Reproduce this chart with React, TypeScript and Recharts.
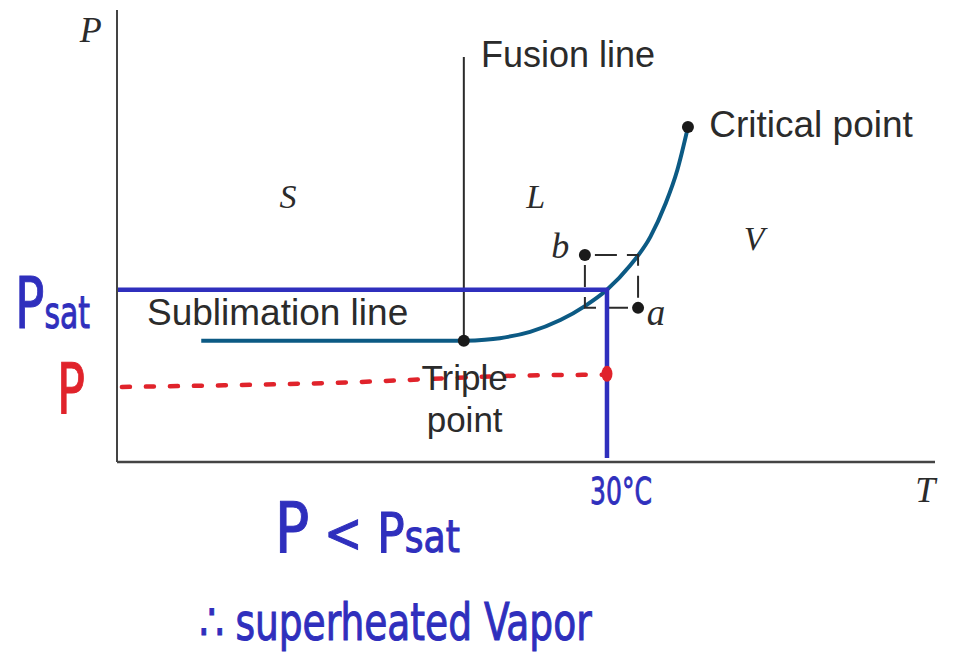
import { ComposedChart, Line, Scatter, XAxis, YAxis, ReferenceDot } from 'recharts';

// phase diagram, T on x and P on y, both in arbitrary units 0..100
const sublimation = [
  { T: 10.3, P: 26.8 },
  { T: 42.4, P: 26.8 },
];
const vaporization = [
  { T: 42.4, P: 26.8 },
  { T: 46.8, P: 27.4 },
  { T: 50.5, P: 28.8 },
  { T: 54.2, P: 31.4 },
  { T: 57.2, P: 34.5 },
  { T: 59.9, P: 38.1 },
  { T: 62.7, P: 43.4 },
  { T: 65.2, P: 49.8 },
  { T: 67.0, P: 56.9 },
  { T: 68.5, P: 64.6 },
  { T: 69.8, P: 74.1 },
];
const fusion = [
  { T: 42.4, P: 26.8 },
  { T: 42.4, P: 89.6 },
];
const psatPath = [
  { T: -0.6, P: 38.1 },
  { T: 59.9, P: 38.1 },
  { T: 59.9, P: 0.9 },
];
const pPath = [
  { T: 0.6, P: 16.6 },
  { T: 26.4, P: 17.5 },
  { T: 51.7, P: 19.2 },
  { T: 59.9, P: 19.3 },
];
const bToA1 = [
  { T: 57.2, P: 45.8 },
  { T: 63.7, P: 45.8 },
  { T: 63.7, P: 34.1 },
];
const bToA2 = [
  { T: 57.2, P: 45.8 },
  { T: 57.2, P: 34.1 },
  { T: 63.7, P: 34.1 },
];
const blackDots = [
  { T: 42.4, P: 26.8 },
  { T: 69.8, P: 74.1 },
  { T: 57.2, P: 45.8 },
  { T: 63.7, P: 34.1 },
];
const redDot = [{ T: 59.9, P: 19.5 }];

const xTicks = [59.9];
const xTickLabels = ['30°C'];
const yTicks = [38.1, 16.8];
const yTickLabels = ['Psat', 'P'];

const INK = '#2b2b2b';
const BLUE = '#2f2fbd';
const RED = '#e0232b';
const CURVE = '#0c5a84';
const SANS = "'Liberation Sans', Arial, sans-serif";
const SERIF = "'Liberation Serif', 'Times New Roman', serif";
const HAND = "'DejaVu Sans Condensed', 'DejaVu Sans', sans-serif";

function note(T: number, P: number, content: (cx: number, cy: number) => any, key: string) {
  return (
    <ReferenceDot
      key={key}
      x={T}
      y={P}
      r={0}
      ifOverflow="visible"
      shape={(p: any) => content(p.cx, p.cy)}
    />
  );
}

const XTick = (props: any) => {
  const { x, y, payload } = props;
  const i = xTicks.indexOf(payload.value);
  return (
    <text x={x - 17} y={y + 42} fill={BLUE} stroke={BLUE} strokeWidth={0.8} fontFamily={HAND} fontSize={38} textLength={62} lengthAdjust="spacingAndGlyphs">
      {xTickLabels[i]}
    </text>
  );
};

const YTick = (props: any) => {
  const { x, y, payload } = props;
  const i = yTicks.indexOf(payload.value);
  if (i === 0) {
    return (
      <text x={x - 102} y={y + 38} fill={BLUE} stroke={BLUE} strokeWidth={1} fontFamily={HAND} fontSize={72} textLength={75} lengthAdjust="spacingAndGlyphs">
        <tspan fontSize={72}>P</tspan>
        <tspan fontSize={44}>sat</tspan>
      </text>
    );
  }
  return (
    <text x={x - 60} y={y + 27} fill={RED} stroke={RED} strokeWidth={1} fontFamily={HAND} fontSize={70} textLength={28} lengthAdjust="spacingAndGlyphs">
      {yTickLabels[i]}
    </text>
  );
};

const dot = (p: any) => <circle cx={p.cx} cy={p.cy} r={6} fill="#1a1a1a" />;
const redBlob = (p: any) => <ellipse cx={p.cx} cy={p.cy} rx={5.5} ry={8} fill={RED} />;

export default function App() {
  return (
    <div style={{ position: 'absolute', left: 0, top: 0, background: '#fff' }}>
      <ComposedChart width={966} height={667} margin={{ top: 10, right: 31, bottom: 175, left: 7 }}>
        <XAxis
          type="number"
          dataKey="T"
          domain={[0, 100]}
          allowDataOverflow
          ticks={xTicks}
          tick={<XTick />}
          tickLine={false}
          tickSize={0}
          tickMargin={0}
          height={30}
          axisLine={{ stroke: '#444', strokeWidth: 2.5 }}
        />
        <YAxis
          type="number"
          dataKey="P"
          domain={[0, 100]}
          allowDataOverflow
          ticks={yTicks}
          tick={<YTick />}
          tickLine={false}
          tickSize={0}
          tickMargin={0}
          width={110}
          axisLine={{ stroke: '#444', strokeWidth: 2 }}
        />

        <Line data={fusion} dataKey="P" type="linear" stroke={INK} strokeWidth={2} dot={false} isAnimationActive={false} />
        <Line data={sublimation} dataKey="P" type="linear" stroke={CURVE} strokeWidth={4} dot={false} isAnimationActive={false} />
        <Line data={vaporization} dataKey="P" type="monotone" stroke={CURVE} strokeWidth={4} dot={false} isAnimationActive={false} />
        <Line data={bToA1} dataKey="P" type="linear" stroke={INK} strokeWidth={2} strokeDasharray="22 10" strokeDashoffset={22} dot={false} isAnimationActive={false} />
        <Line data={bToA2} dataKey="P" type="linear" stroke={INK} strokeWidth={2} strokeDasharray="22 10" strokeDashoffset={22} dot={false} isAnimationActive={false} />
        <Line data={psatPath} dataKey="P" type="linear" stroke={BLUE} strokeWidth={4.5} dot={false} isAnimationActive={false} />
        <Line data={pPath} dataKey="P" type="monotone" stroke={RED} strokeWidth={4.5} strokeLinecap="round" strokeDasharray="8 16" dot={false} isAnimationActive={false} />
        <Scatter data={blackDots} dataKey="P" shape={dot} isAnimationActive={false} />
        <Scatter data={redDot} dataKey="P" shape={redBlob} isAnimationActive={false} />

        {note(44.5, 87.4, (x, y) => <text x={x} y={y} fill={INK} fontFamily={SANS} fontSize={36}>Fusion line</text>, 'fusion')}
        {note(72.4, 71.9, (x, y) => <text x={x} y={y} fill={INK} fontFamily={SANS} fontSize={37}>Critical point</text>, 'crit')}
        {note(3.67, 30.3, (x, y) => <text x={x} y={y} fill={INK} fontFamily={SANS} fontSize={37}>Sublimation line</text>, 'sub')}
        {note(42.5, 15.9, (x, y) => <text x={x} y={y} fill={INK} fontFamily={SANS} fontSize={35} textAnchor="middle">Triple</text>, 'triple')}
        {note(42.5, 6.6, (x, y) => <text x={x} y={y} fill={INK} fontFamily={SANS} fontSize={35} textAnchor="middle">point</text>, 'point')}

        {note(20.9, 56.2, (x, y) => <text x={x} y={y} fill={INK} fontFamily={SERIF} fontStyle="italic" fontSize={34} textAnchor="middle">S</text>, 'S')}
        {note(51.2, 56.2, (x, y) => <text x={x} y={y} fill={INK} fontFamily={SERIF} fontStyle="italic" fontSize={34} textAnchor="middle">L</text>, 'L')}
        {note(77.9, 46.9, (x, y) => <text x={x} y={y} fill={INK} fontFamily={SERIF} fontStyle="italic" fontSize={34} textAnchor="middle">V</text>, 'V')}
        {note(54.2, 45.1, (x, y) => <text x={x} y={y} fill={INK} fontFamily={SERIF} fontStyle="italic" fontSize={36} textAnchor="middle">b</text>, 'b')}
        {note(65.9, 30.3, (x, y) => <text x={x} y={y} fill={INK} fontFamily={SERIF} fontStyle="italic" fontSize={37} textAnchor="middle">a</text>, 'a')}
        {note(-3.2, 92.9, (x, y) => <text x={x} y={y} fill={INK} fontFamily={SERIF} fontStyle="italic" fontSize={36} textAnchor="middle">P</text>, 'Plabel')}
        {note(98.8, -8.8, (x, y) => <text x={x} y={y} fill={INK} fontFamily={SERIF} fontStyle="italic" fontSize={36} textAnchor="middle">T</text>, 'Tlabel')}

        {note(19.3, -19.9, (x, y) => (
          <text x={x} y={y} fill={BLUE} stroke={BLUE} strokeWidth={1} fontFamily={HAND} fontSize={70} textLength={185} lengthAdjust="spacingAndGlyphs">
            <tspan fontSize={70}>P</tspan>
            <tspan fontSize={56}>{' < P'}</tspan>
            <tspan fontSize={44}>sat</tspan>
          </text>
        ), 'ineq')}
        {note(10.1, -39.4, (x, y) => (
          <text x={x} y={y} fill={BLUE} stroke={BLUE} strokeWidth={1} fontFamily={HAND} fontSize={52} textLength={392} lengthAdjust="spacingAndGlyphs">
            ∴ superheated Vapor
          </text>
        ), 'concl')}
      </ComposedChart>
    </div>
  );
}
